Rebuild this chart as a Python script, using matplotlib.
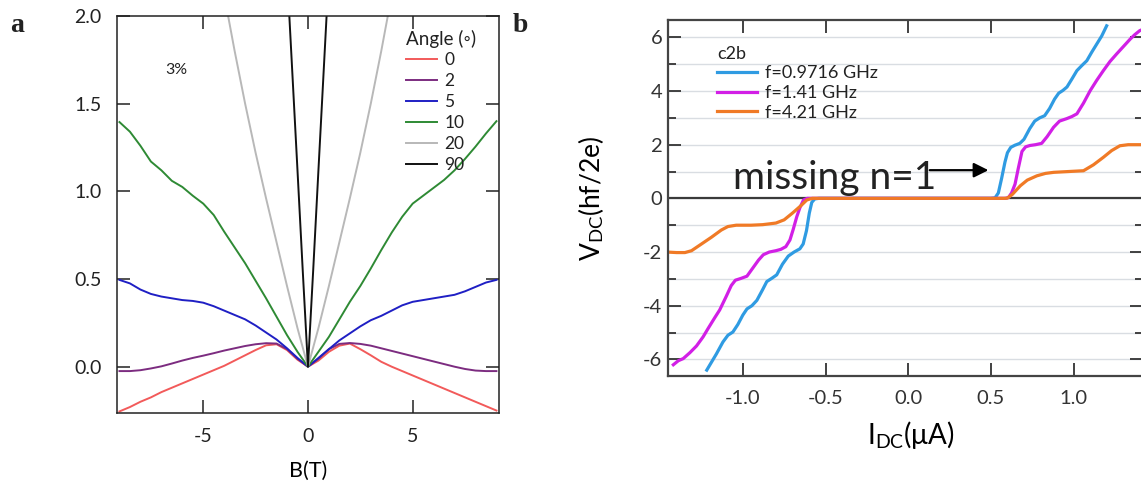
import matplotlib
matplotlib.use('Agg')

import matplotlib.pyplot as plt
from matplotlib.ticker import MultipleLocator

plt.rcParams['font.family'] = ['Lato', 'DejaVu Sans']
plt.rcParams['mathtext.fontset'] = 'custom'
plt.rcParams['mathtext.rm'] = 'Lato'
plt.rcParams['mathtext.it'] = 'Lato:italic'
plt.rcParams['text.color'] = '#222222'
plt.rcParams['axes.unicode_minus'] = False

# ---- panel a: magnetoresistance vs field for several tilt angles ----
b_field = [-9, -8.5, -8, -7.5, -7, -6.5, -6, -5.5, -5, -4.5, -4, -3.5, -3, -2.5, -2, -1.5, -1, -0.5,
           0, 0.5, 1, 1.5, 2, 2.5, 3, 3.5, 4, 4.5, 5, 5.5, 6, 6.5, 7, 7.5, 8, 8.5, 9]
mr_0 = [-0.255, -0.23, -0.20, -0.175, -0.145, -0.12, -0.095, -0.07, -0.045, -0.02, 0.005, 0.035,
        0.065, 0.095, 0.122, 0.128, 0.095, 0.04,
        0.0, 0.035, 0.085, 0.12, 0.132, 0.10, 0.065, 0.028, 0.0, -0.025, -0.05, -0.075, -0.10,
        -0.125, -0.15, -0.175, -0.20, -0.225, -0.25]
mr_2 = [-0.025, -0.025, -0.02, -0.01, 0.002, 0.018, 0.035, 0.05, 0.063, 0.077, 0.092, 0.105,
        0.118, 0.128, 0.134, 0.132, 0.10, 0.045,
        0.0, 0.045, 0.10, 0.13, 0.135, 0.13, 0.12, 0.105, 0.09, 0.075, 0.06, 0.045, 0.03,
        0.015, 0.0, -0.013, -0.022, -0.025, -0.025]
mr_5 = [0.495, 0.475, 0.44, 0.415, 0.40, 0.39, 0.38, 0.375, 0.365, 0.345, 0.32, 0.295,
        0.27, 0.235, 0.195, 0.155, 0.105, 0.05,
        0.0, 0.05, 0.10, 0.15, 0.19, 0.23, 0.265, 0.29, 0.32, 0.35, 0.37, 0.38, 0.39,
        0.40, 0.41, 0.43, 0.455, 0.48, 0.495]
mr_10 = [1.395, 1.34, 1.26, 1.17, 1.12, 1.06, 1.025, 0.975, 0.93, 0.865, 0.77, 0.68,
         0.59, 0.49, 0.39, 0.285, 0.18, 0.085,
         0.0, 0.085, 0.17, 0.27, 0.37, 0.46, 0.56, 0.665, 0.765, 0.855, 0.93, 0.975, 1.02,
         1.065, 1.12, 1.185, 1.255, 1.33, 1.40]
b_field_20 = [-4, -3.5, -3, -2.5, -2, -1.5, -1, -0.5, 0, 0.5, 1, 1.5, 2, 2.5, 3, 3.5, 4]
mr_20 = [2.12, 1.8, 1.5, 1.22, 0.96, 0.71, 0.46, 0.22, 0.0, 0.22, 0.46, 0.71, 0.96, 1.22, 1.5, 1.8, 2.12]
b_field_90 = [-1, -0.5, -0.25, 0, 0.25, 0.5, 1]
mr_90 = [2.25, 1.12, 0.55, 0.0, 0.55, 1.12, 2.25]

angle_labels = ['0', '2', '5', '10', '20', '90']
angle_colors = ['#f25a5a', '#7c2c80', '#1f1fc4', '#2e8a34', '#b8b8b8', '#111111']

# ---- panel b: Shapiro steps ----
i_0971 = [-1.218, -1.16, -1.12, -1.09, -1.06, -1.03, -1.0, -0.975, -0.945, -0.915, -0.88, -0.855,
          -0.825, -0.795, -0.76, -0.725, -0.69, -0.655, -0.635, -0.615, -0.598, -0.583, -0.565,
          -0.54, 0.0, 0.50, 0.525, 0.545, 0.565, 0.585, 0.60, 0.62, 0.645, 0.675, 0.70, 0.735,
          0.765, 0.795, 0.825, 0.855, 0.885, 0.91, 0.935, 0.96, 0.99, 1.02, 1.05, 1.08, 1.11,
          1.14, 1.17, 1.20]
v_0971 = [-6.4, -5.8, -5.35, -5.1, -4.98, -4.7, -4.35, -4.12, -4.0, -3.8, -3.4, -3.1,
          -2.98, -2.85, -2.45, -2.15, -2.0, -1.88, -1.7, -1.2, -0.55, -0.15, -0.02,
          0.0, 0.0, 0.0, 0.02, 0.2, 0.75, 1.35, 1.7, 1.9, 1.98, 2.05, 2.2, 2.6,
          2.88, 3.0, 3.08, 3.35, 3.7, 3.92, 4.02, 4.15, 4.45, 4.76, 4.95, 5.13, 5.45,
          5.75, 6.05, 6.43]
i_141 = [-1.42, -1.39, -1.36, -1.32, -1.28, -1.24, -1.21, -1.17, -1.14, -1.10, -1.07, -1.045,
         -1.01, -0.975, -0.94, -0.905, -0.876, -0.84, -0.80, -0.77, -0.74, -0.715, -0.695,
         -0.674, -0.655, -0.633, -0.61, 0.0, 0.59, 0.607, 0.625, 0.646, 0.665, 0.688, 0.71,
         0.736, 0.77, 0.807, 0.84, 0.879, 0.915, 0.958, 0.99, 1.02, 1.06, 1.10, 1.14, 1.18,
         1.22, 1.26, 1.30, 1.343, 1.37, 1.40, 1.44]
v_141 = [-6.2, -6.05, -5.97, -5.75, -5.5, -5.16, -4.85, -4.45, -4.16, -3.65, -3.25, -3.05,
         -2.98, -2.9, -2.6, -2.3, -2.1, -2.0, -1.95, -1.9, -1.8, -1.55, -1.15,
         -0.69, -0.35, -0.06, 0.0, 0.0, 0.0, 0.04, 0.2, 0.53, 1.1, 1.75, 1.92,
         1.97, 2.0, 2.05, 2.3, 2.65, 2.88, 2.97, 3.05, 3.15, 3.55, 4.01, 4.4, 4.76,
         5.1, 5.38, 5.65, 5.94, 6.1, 6.25, 6.35]
i_421 = [-1.46, -1.40, -1.35, -1.31, -1.25, -1.19, -1.13, -1.09, -1.04, -0.95, -0.88, -0.80,
         -0.75, -0.70, -0.65, -0.613, -0.58, 0.0, 0.58, 0.60, 0.63, 0.678, 0.72, 0.778, 0.83,
         0.88, 0.97, 1.06, 1.12, 1.18, 1.23, 1.28, 1.33, 1.40, 1.44]
v_421 = [-2.0, -2.02, -2.02, -1.95, -1.7, -1.45, -1.18, -1.05, -1.0, -1.0, -0.98, -0.92,
         -0.8, -0.55, -0.28, -0.06, 0.0, 0.0, 0.0, 0.01, 0.15, 0.47, 0.68, 0.84, 0.93,
         0.97, 1.0, 1.03, 1.25, 1.53, 1.78, 1.96, 2.0, 2.0, 2.0]
freq_labels = ['f=0.9716 GHz', 'f=1.41 GHz', 'f=4.21 GHz']
freq_colors = ['#2f9be2', '#d21fe6', '#f07a26']

fig = plt.figure(figsize=(11.41, 4.84), dpi=100)

# panel a
ax1 = fig.add_axes([0.1025, 0.1467, 0.3348, 0.8203])
b_sets = [b_field, b_field, b_field, b_field, b_field_20, b_field_90]
mr_sets = [mr_0, mr_2, mr_5, mr_10, mr_20, mr_90]
for bx, my, lab, col in zip(b_sets, mr_sets, angle_labels, angle_colors):
    ax1.plot(bx, my, color=col, lw=1.4, label=lab, solid_joinstyle='round')
ax1.set_xlim(-9.12, 9.12)
ax1.set_ylim(-0.264, 2.0)
ax1.set_xticks([-5, 0, 5])
ax1.set_yticks([0.0, 0.5, 1.0, 1.5, 2.0])
ax1.set_yticklabels(['0.0', '0.5', '1.0', '1.5', '2.0'])
ax1.tick_params(direction='in', top=True, right=True, length=9.5, width=1.1,
                labelsize=14, pad=11, colors='#222222')
for sp in ax1.spines.values():
    sp.set_linewidth(1.1)
    sp.set_color('#222222')
ax1.set_xlabel('B(T)', fontsize=15.5)
ax1.xaxis.set_label_coords(0.5, -0.12)
ax1.xaxis.label.set_va('top')
ax1.text(-6.8, 1.69, '3%', fontsize=11.5, va='center', ha='left')
leg1 = ax1.legend(title='Angle (◦)', loc='upper left', bbox_to_anchor=(0.757, 0.966),
                  frameon=False, fontsize=12.5, title_fontsize=13.5, handlelength=1.8,
                  handletextpad=0.4, labelspacing=0.28, borderpad=0, borderaxespad=0,
                  alignment='left')

# panel b
ax2 = fig.add_axes([0.5855, 0.2231, 0.4163, 0.7355])
ax2.set_xlim(-1.452, 1.42)
ax2.set_ylim(-6.62, 6.645)
ax2.yaxis.set_major_locator(MultipleLocator(2))
ax2.yaxis.set_minor_locator(MultipleLocator(1))
ax2.set_xticks([-1.0, -0.5, 0.0, 0.5, 1.0])
ax2.set_xticklabels(['-1.0', '-0.5', '0.0', '0.5', '1.0'])
ax2.set_yticks([-6, -4, -2, 0, 2, 4, 6])
ax2.set_yticklabels(['-6', '-4', '-2', '0', '2', '4', '6'])
ax2.grid(True, which='both', axis='y', color='#d9dde2', lw=1.0, zorder=0)
ax2.set_axisbelow(True)
ax2.axhline(0, color='#3a3a3a', lw=1.6, zorder=1.5)
for ix, vy, lab, col in zip([i_0971, i_141, i_421], [v_0971, v_141, v_421], freq_labels, freq_colors):
    ax2.plot(ix, vy, color=col, lw=2.3, label=lab, solid_joinstyle='round', zorder=2)
ax2.tick_params(which='major', direction='in', top=True, right=True, length=9.5, width=1.3,
                labelsize=14.5, colors='#333333')
ax2.tick_params(axis='x', which='major', pad=10)
ax2.tick_params(axis='y', which='major', pad=4)
ax2.tick_params(which='minor', direction='in', right=True, length=5.5, width=1.3, colors='#333333')
for sp in ax2.spines.values():
    sp.set_linewidth(1.6)
    sp.set_color('#444444')
ax2.set_xlabel('I$_{\\rm DC}$(μA)', fontsize=20)
ax2.xaxis.set_label_coords(0.51, -0.122)
ax2.xaxis.label.set_va('top')
ax2.set_ylabel('V$_{\\rm DC}$(hf/2e)', fontsize=19)
ax2.yaxis.set_label_coords(-0.13, 0.5)
ax2.text(-1.059, 0.35, 'missing n=1', fontsize=28, ha='left', va='baseline', zorder=3)
ax2.annotate('', xy=(0.485, 1.05), xytext=(0.13, 1.05),
             arrowprops=dict(arrowstyle='-|>', color='black', lw=1.6, mutation_scale=22,
                             shrinkA=0, shrinkB=0), zorder=3)
leg2 = ax2.legend(title='c2b', loc='upper left', bbox_to_anchor=(0.103, 0.928),
                  frameon=False, fontsize=13, title_fontsize=13, handlelength=2.2,
                  handletextpad=0.45, labelspacing=0.2, borderpad=0, borderaxespad=0,
                  alignment='left')

fig.text(10 / 1141, 1 - 32 / 484, 'a', fontsize=20, fontweight='bold',
         family='Liberation Serif', va='baseline')
fig.text(513 / 1141, 1 - 32 / 484, 'b', fontsize=20, fontweight='bold',
         family='Liberation Serif', va='baseline')

fig.savefig('out.png', dpi=100, facecolor='white')
